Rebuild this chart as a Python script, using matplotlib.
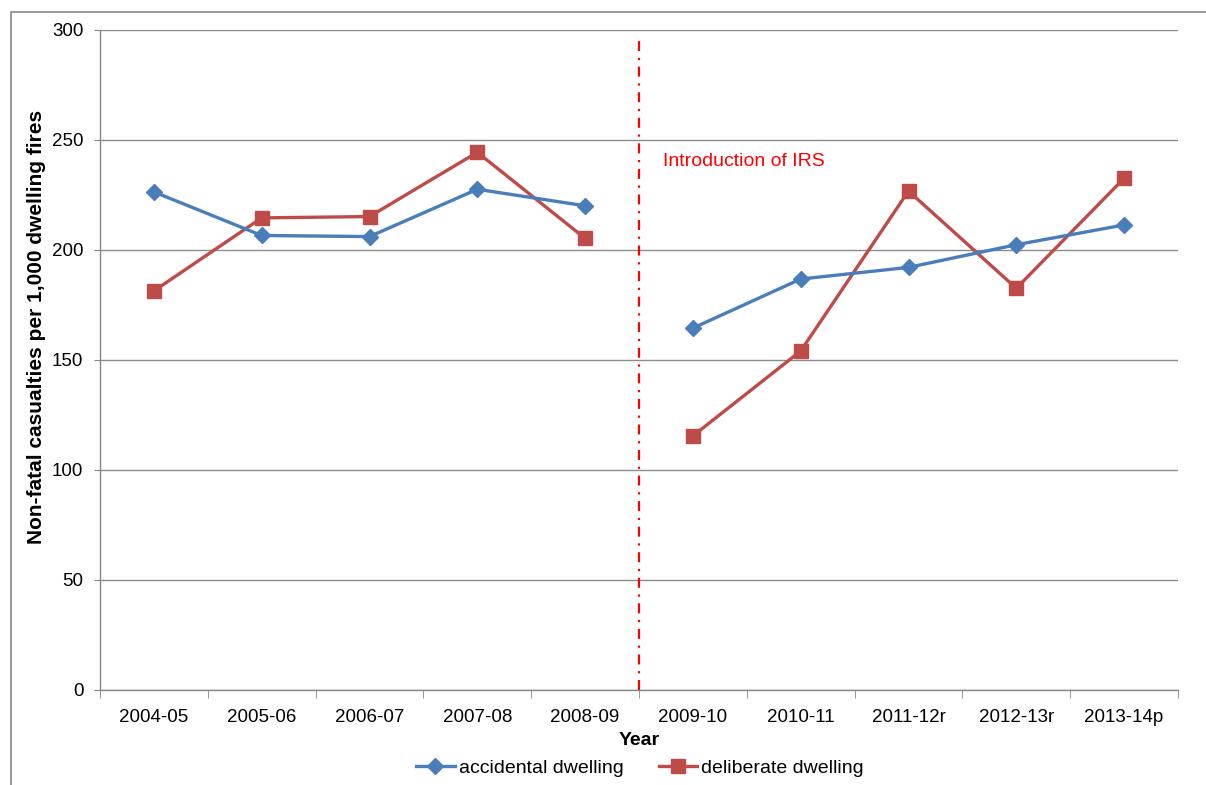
import matplotlib
matplotlib.use("Agg")
import matplotlib.pyplot as plt
from matplotlib.lines import Line2D
from matplotlib.patches import Rectangle
import numpy as np

plt.rcParams['font.family'] = ['Liberation Sans', 'DejaVu Sans']

years = ["2004-05", "2005-06", "2006-07", "2007-08", "2008-09",
         "2009-10", "2010-11", "2011-12r", "2012-13r", "2013-14p"]
accidental = [226.4, 206.6, 206.1, 227.6, 220.1, 164.5, 186.8, 192.1, 202.4, 211.4]
deliberate = [181.4, 214.6, 215.2, 244.4, 205.3, 115.5, 154.1, 226.8, 182.6, 232.6]
yticks = [0, 50, 100, 150, 200, 250, 300]

W, H = 1206, 785
fig = plt.figure(figsize=(W / 100, H / 100), dpi=100)
ax = fig.add_axes([100 / W, (H - 690) / H, 1078 / W, 660 / H])

# chart border (extends past right/bottom edges like the reference)
fig.patches.append(Rectangle((11 / W, -20 / H), (W + 20) / W, (H - 12 + 20) / H,
                             transform=fig.transFigure, fill=False,
                             edgecolor='#868686', lw=1.2))

blue = '#4A7EBB'
red = '#BE4B48'
x = np.arange(len(years))
segs = [slice(0, 5), slice(5, 10)]
for s in segs:
    ax.plot(x[s], np.array(accidental)[s], color=blue, lw=2.4, marker='D',
            markersize=8, zorder=4)
    ax.plot(x[s], np.array(deliberate)[s], color=red, lw=2.4, marker='s',
            markersize=10, zorder=3)

ax.set_xlim(-0.5, len(years) - 0.5)
ax.set_ylim(0, 300)
ax.set_yticks(yticks)
ax.set_yticklabels([str(v) for v in yticks], fontsize=13.5)
ax.set_xticks(x)
ax.set_xticklabels(years, fontsize=13.5)
ax.tick_params(axis='x', length=0, pad=14)
ax.set_xticks(np.arange(-0.5, len(years), 1.0), minor=True)
ax.tick_params(axis='x', which='minor', length=6, color='#868686')
ax.tick_params(axis='y', length=4, color='#868686', pad=8)

ax.grid(axis='y', color='#8c8c8c', lw=1.0)
ax.set_axisbelow(True)
for sp in ['top', 'right']:
    ax.spines[sp].set_visible(False)
for sp in ['left', 'bottom']:
    ax.spines[sp].set_color('#868686')
    ax.spines[sp].set_linewidth(1.0)

# IRS line
ax.axvline(4.5, ymin=0, ymax=(655 / 660), color='#FF0000', lw=1.6,
           linestyle=(0, (4.5, 3, 1, 3)), zorder=2)
ax.text(4.72, 240, "Introduction of IRS", color='#FF0000', fontsize=14,
        va='center', ha='left')

ax.set_xlabel("Year", fontsize=14, fontweight='bold', labelpad=4)
ax.set_ylabel("Non-fatal casualties per 1,000 dwelling fires", fontsize=15,
              fontweight='bold')
ax.yaxis.set_label_coords(-54 / 1078, (690 - 327) / 660)

handles = [Line2D([], [], color=blue, lw=2.4, marker='D', markersize=8),
           Line2D([], [], color=red, lw=2.4, marker='s', markersize=10)]
fig.legend(handles, ["accidental dwelling", "deliberate dwelling"],
           loc='center', bbox_to_anchor=(640 / W, 1 - 768 / H), ncol=2,
           frameon=False, fontsize=14, handlelength=2.0, handletextpad=0.2,
           columnspacing=1.8)

fig.savefig("out.png", dpi=100)
